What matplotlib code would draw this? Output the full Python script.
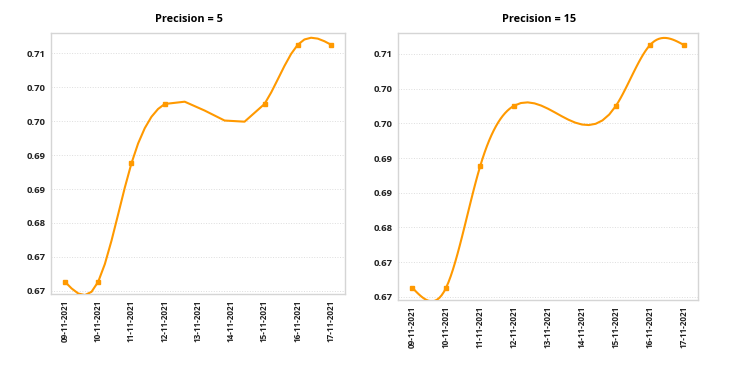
import numpy as np
import matplotlib
matplotlib.use('Agg')
import matplotlib.pyplot as plt

# Data
dates = ['09-11-2021', '10-11-2021', '11-11-2021', '12-11-2021', '13-11-2021',
         '14-11-2021', '15-11-2021', '16-11-2021', '17-11-2021']
day_idx = [0, 1, 2, 3, 6, 7, 8]          # days that carry a value
values = [0.67133, 0.67133, 0.68880, 0.69754, 0.69754, 0.70628, 0.70628]
precisions = [5, 15]

y_ticks = [0.670, 0.675, 0.680, 0.685, 0.690, 0.695, 0.700, 0.705]
y_tick_labels = ['0.67', '0.67', '0.68', '0.69', '0.69', '0.70', '0.70', '0.71']

ORANGE = '#ff9900'
plt.rcParams['font.family'] = ['Open Sans', 'DejaVu Sans']


def natural_spline(x, y, n_per_seg):
    """Natural cubic spline through (x, y), sampled n_per_seg steps per segment."""
    x = np.asarray(x, float)
    y = np.asarray(y, float)
    n = len(x)
    h = np.diff(x)
    A = np.zeros((n, n))
    b = np.zeros(n)
    A[0, 0] = A[-1, -1] = 1
    for i in range(1, n - 1):
        A[i, i - 1] = h[i - 1]
        A[i, i] = 2 * (h[i - 1] + h[i])
        A[i, i + 1] = h[i]
        b[i] = 6 * ((y[i + 1] - y[i]) / h[i] - (y[i] - y[i - 1]) / h[i - 1])
    M = np.linalg.solve(A, b)
    xs, ys = [], []
    for i in range(n - 1):
        t = np.linspace(x[i], x[i + 1], n_per_seg + 1)
        if i < n - 2:
            t = t[:-1]
        a = x[i + 1] - t
        c = t - x[i]
        s = (M[i] * a ** 3 + M[i + 1] * c ** 3) / (6 * h[i]) \
            + (y[i] / h[i] - M[i] * h[i] / 6) * a \
            + (y[i + 1] / h[i] - M[i + 1] * h[i] / 6) * c
        xs.extend(t)
        ys.extend(s)
    return np.array(xs), np.array(ys)


fig = plt.figure(figsize=(7.5, 3.71), dpi=100)
axes = [fig.add_axes([0.0684, 0.2075, 0.3916, 0.7027]),
        fig.add_axes([0.531, 0.191, 0.4, 0.719])]

for ax, prec in zip(axes, precisions):
    xs, ys = natural_spline(day_idx, values, prec)
    ax.plot(xs, ys, color=ORANGE, lw=1.5, solid_joinstyle='round', zorder=3)
    ax.plot(day_idx, values, ls='none', marker='s', ms=3.2, color=ORANGE, zorder=4)

    ax.set_title(f'Precision = {prec}', fontsize=7.8, fontweight='bold', pad=8,
                 x=0.47)
    ax.set_xlim(-0.41, 8.42)
    ax.set_ylim(0.66952, 0.70796)
    ax.set_xticks(range(len(dates)))
    ax.set_xticklabels(dates, rotation=90, fontsize=5.9, fontweight='bold', color='#222222')
    ax.set_yticks(y_ticks)
    ax.set_yticklabels(y_tick_labels, fontsize=6.8, fontweight='bold', color='#222222')
    ax.tick_params(length=0, pad=4)

    ax.set_axisbelow(True)
    ax.grid(axis='y', color='#dddddd', ls=':', lw=0.7)
    for sp in ax.spines.values():
        sp.set_color('#d5d5d5')
        sp.set_linewidth(1)

fig.savefig('out.png', dpi=100)
